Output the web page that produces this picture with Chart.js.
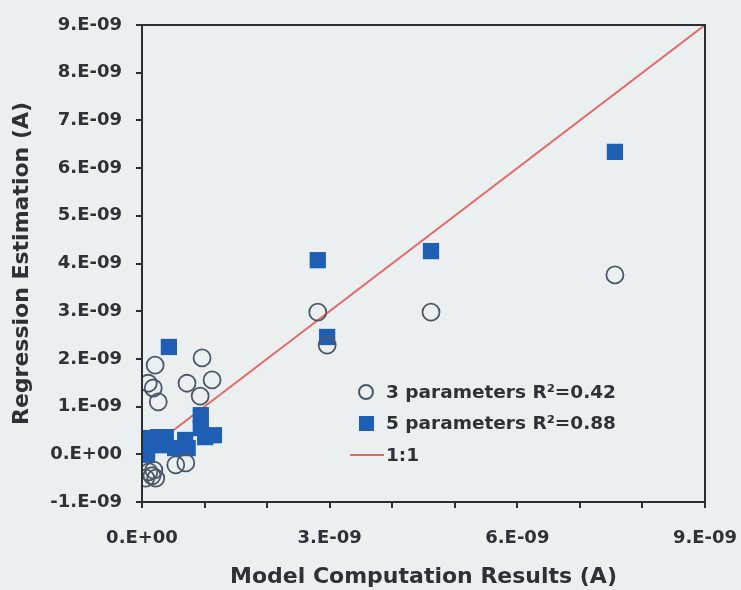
<!DOCTYPE html>
<html>
<head>
<meta charset="utf-8">
<script src="https://cdn.jsdelivr.net/npm/chart.js@4"></script>
<style>
  html, body { margin: 0; padding: 0; background: #eceff0; }
  #wrap { width: 741px; height: 590px; }
</style>
</head>
<body>
<div id="wrap"><canvas id="myChart" width="741" height="590"></canvas></div>
<script>
// values in units of 1e-9 A
const threeParamX = [7.56, 4.62, 2.81, 2.96, 0.21, 0.96, 0.10, 0.18, 0.72, 1.12, 0.26, 0.93, 0.54, 0.70, 0.11, 0.19, 0.06, 0.22, 0.16];
const threeParamY = [3.76, 2.98, 2.98, 2.29, 1.87, 2.02, 1.49, 1.39, 1.49, 1.56, 1.10, 1.22, -0.22, -0.18, -0.37, -0.33, -0.50, -0.50, -0.45];
const fiveParamX = [7.56, 4.62, 2.81, 2.96, 0.43, 0.08, 0.08, 0.13, 0.26, 0.38, 0.29, 0.53, 0.73, 0.69, 0.94, 0.94, 1.01, 1.15, 0.08];
const fiveParamY = [6.34, 4.26, 4.07, 2.46, 2.25, 0.34, 0.09, 0.30, 0.36, 0.36, 0.19, 0.13, 0.13, 0.30, 0.82, 0.55, 0.36, 0.40, -0.01];
const oneToOne = [0, 9];
const legendLabels = ['3 parameters R\u00b2=0.42', '5 parameters R\u00b2=0.88', '1:1'];

const toPoints = (xs, ys) => xs.map((x, i) => ({ x: x, y: ys[i] }));

const fmt = v => {
    const n = Math.round(v);
    if (n === 0) return '0.E+00';
    return n + '.E-09';
};

const textColor = '#2e3236';
const font = 'DejaVu Sans, Verdana, sans-serif';

// frame round the plot + legend inside the plot area
const framePlugin = {
    id: 'frame',
    afterDraw(chart) {
        const { ctx, chartArea: a } = chart;
        ctx.save();
        ctx.strokeStyle = '#2b2f33';
        ctx.lineWidth = 2;
        ctx.strokeRect(a.left, a.top, a.right - a.left, a.bottom - a.top);

        // legend
        ctx.font = 'bold 18.5px ' + font;
        ctx.fillStyle = textColor;
        ctx.textBaseline = 'middle';
        ctx.textAlign = 'left';
        // circle
        ctx.beginPath();
        ctx.arc(366, 392, 7, 0, Math.PI * 2);
        ctx.strokeStyle = '#4a5868';
        ctx.lineWidth = 2;
        ctx.stroke();
        ctx.fillText(legendLabels[0], 386, 393);
        // square
        ctx.fillStyle = '#1f5fb3';
        ctx.fillRect(359, 416, 15, 15);
        ctx.fillStyle = textColor;
        ctx.fillText(legendLabels[1], 386, 424);
        // line
        ctx.beginPath();
        ctx.moveTo(350, 455);
        ctx.lineTo(384, 455);
        ctx.strokeStyle = '#e26a6a';
        ctx.lineWidth = 2;
        ctx.stroke();
        ctx.fillText(legendLabels[2], 386, 456);
        ctx.restore();
    }
};

new Chart(document.getElementById('myChart'), {
    type: 'scatter',
    data: {
        datasets: [
            {
                label: legendLabels[2],
                type: 'line',
                data: toPoints(oneToOne, oneToOne),
                borderColor: '#e26a6a',
                borderWidth: 2,
                pointRadius: 0,
                order: 3
            },
            {
                label: legendLabels[1],
                data: toPoints(fiveParamX, fiveParamY),
                pointStyle: 'rect',
                pointRadius: 11.5,
                backgroundColor: '#1f5fb3',
                borderColor: '#1f5fb3',
                borderWidth: 0,
                order: 2
            },
            {
                label: legendLabels[0],
                data: toPoints(threeParamX, threeParamY),
                pointStyle: 'circle',
                pointRadius: 8.5,
                backgroundColor: 'rgba(0,0,0,0)',
                borderColor: '#4a5868',
                borderWidth: 1.8,
                order: 1
            }
        ]
    },
    options: {
        responsive: false,
        animation: false,
        layout: { padding: { top: 25, right: 36, left: 0, bottom: 0 } },
        plugins: {
            legend: { display: false },
            tooltip: { enabled: false }
        },
        scales: {
            x: {
                type: 'linear',
                min: 0,
                max: 9,
                afterFit: s => { s.height = 88; s.paddingLeft = 0; s.paddingRight = 0; },
                border: { display: false },
                grid: { drawOnChartArea: false, tickLength: 6, tickColor: '#2b2f33', lineWidth: 2 },
                ticks: {
                    stepSize: 1,
                    padding: 20,
                    maxRotation: 0,
                    autoSkip: false,
                    color: textColor,
                    font: { family: font, size: 18, weight: 'bold' },
                    callback: v => (Math.round(v) % 3 === 0 ? fmt(v) : '')
                },
                title: {
                    display: true,
                    text: 'Model Computation Results (A)',
                    color: textColor,
                    font: { family: font, size: 22, weight: 'bold' },
                    padding: { top: 5, bottom: 0 }
                }
            },
            y: {
                type: 'linear',
                min: -1,
                max: 9,
                afterFit: s => { s.width = 142; s.paddingTop = 0; s.paddingBottom = 0; },
                border: { display: false },
                grid: { drawOnChartArea: false, tickLength: 6, tickColor: '#2b2f33', lineWidth: 2 },
                ticks: {
                    stepSize: 1,
                    padding: 14,
                    color: textColor,
                    font: { family: font, size: 18, weight: 'bold' },
                    callback: v => fmt(v)
                },
                title: {
                    display: true,
                    text: 'Regression Estimation (A)',
                    color: textColor,
                    font: { family: font, size: 22, weight: 'bold' },
                    padding: { top: 9, bottom: 4 }
                }
            }
        }
    },
    plugins: [framePlugin]
});
</script>
</body>
</html>
